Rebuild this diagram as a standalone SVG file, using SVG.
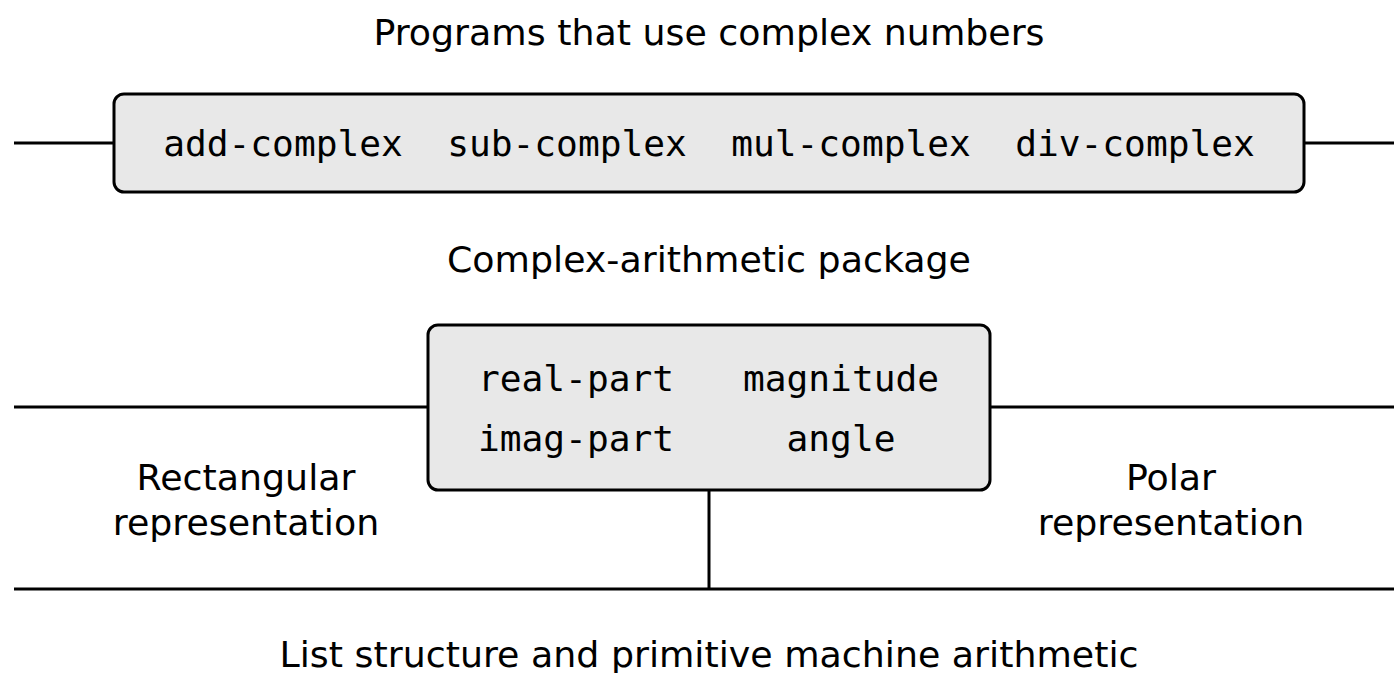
<svg xmlns="http://www.w3.org/2000/svg" width="1394" height="673" viewBox="0 0 1394 673">
<style>
.lbl{font-family:"DejaVu Sans","Liberation Sans",sans-serif;font-size:36.35px;fill:#000;text-anchor:middle}
.code{font-family:"DejaVu Sans Mono","Liberation Mono",monospace;font-size:36.2px;fill:#000;text-anchor:middle}
.box{fill:#e8e8e8;stroke:#000;stroke-width:3}
.ln{stroke:#000;stroke-width:3;fill:none}
</style>
<rect width="1394" height="673" fill="#fff"/>
<g id="connectors">
<line class="ln" x1="14" y1="143" x2="114" y2="143"/>
<line class="ln" x1="1304" y1="143" x2="1394" y2="143"/>
<line class="ln" x1="14" y1="407" x2="428" y2="407"/>
<line class="ln" x1="990" y1="407" x2="1394" y2="407"/>
<line class="ln" x1="14" y1="589" x2="1394" y2="589"/>
<line class="ln" x1="709" y1="490" x2="709" y2="589"/>
</g>
<g id="title-programs"><text class="lbl" x="709" y="45">Programs that use complex numbers</text></g>
<g id="ops-box">
<rect class="box" x="114" y="94" width="1190" height="98" rx="10"/>
<text class="code" x="283" y="156">add-complex</text>
<text class="code" x="567" y="156">sub-complex</text>
<text class="code" x="851" y="156">mul-complex</text>
<text class="code" x="1135" y="156">div-complex</text>
</g>
<g id="title-package"><text class="lbl" x="709" y="272">Complex-arithmetic package</text></g>
<g id="selectors-box">
<rect class="box" x="428" y="325" width="562" height="165" rx="10"/>
<text class="code" x="576" y="391">real-part</text>
<text class="code" x="841" y="391">magnitude</text>
<text class="code" x="576" y="451">imag-part</text>
<text class="code" x="841" y="451">angle</text>
</g>
<g id="rectangular"><text class="lbl" x="246" y="490">Rectangular</text><text class="lbl" x="246" y="535">representation</text></g>
<g id="polar"><text class="lbl" x="1171" y="490">Polar</text><text class="lbl" x="1171" y="535">representation</text></g>
<g id="title-list"><text class="lbl" x="709" y="667">List structure and primitive machine arithmetic</text></g>
</svg>
